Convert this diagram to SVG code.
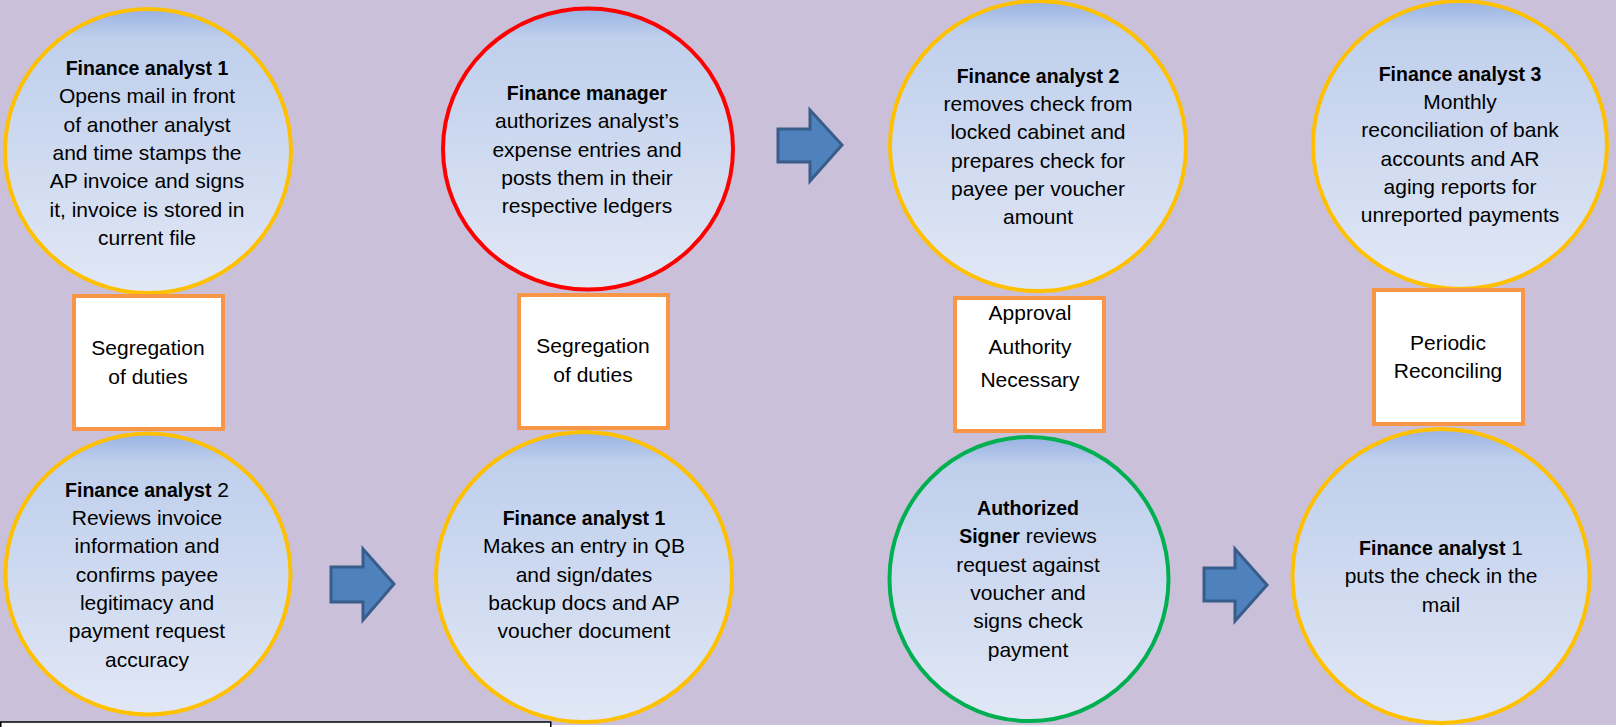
<svg xmlns="http://www.w3.org/2000/svg" width="1616" height="727" viewBox="0 0 1616 727">
<defs>
<linearGradient id="cg" x1="0" y1="0" x2="0" y2="1">
<stop offset="0" stop-color="#98B2E2"/>
<stop offset="0.1" stop-color="#BFCFEC"/>
<stop offset="1" stop-color="#E1E7F5"/>
</linearGradient>
<style>
.c{fill:url(#cg);stroke-width:4}
.y{stroke:#FFC000}
.r{stroke:#FF0000}
.g{stroke:#00B050}
.bx{fill:#FFFFFF;stroke:#F79646;stroke-width:4}
.ar{fill:#4F81BD;stroke:#385D8A;stroke-width:3;stroke-linejoin:miter}
text{font-family:"Liberation Sans",Arial,sans-serif;font-size:21px;fill:#000;text-anchor:middle}
.b{font-weight:bold;font-size:19.5px}
</style>
</defs>
<rect x="0" y="0" width="1616" height="727" fill="#FFFFFF"/>
<rect x="0" y="0" width="1616" height="725" fill="#CAC0DA"/>
<rect x="0.75" y="722" width="550" height="12" fill="#FFFFFF" stroke="#000" stroke-width="1.5"/>

<g id="connectors">
<polygon class="ar" points="331,567 363,567 363,549 394,584 363,620 363,602 331,602"/>
<polygon class="ar" points="778,129 810,129 810,110 842,145 810,181 810,162 778,162"/>
<polygon class="ar" points="1204,568 1235,568 1235,549 1267,585 1235,621 1235,601 1204,601"/>
</g>

<g id="n1">
<ellipse class="c y" cx="148" cy="151" rx="143" ry="142"/>
<text><tspan class="b" x="147" y="75">Finance analyst 1</tspan><tspan x="147" y="103.3">Opens mail in front</tspan><tspan x="147" y="131.7">of another analyst</tspan><tspan x="147" y="160">and time stamps the</tspan><tspan x="147" y="188.3">AP invoice and signs</tspan><tspan x="147" y="216.7">it, invoice is stored in</tspan><tspan x="147" y="245">current file</tspan></text>
</g>

<g id="n2">
<ellipse class="c y" cx="148" cy="574" rx="142.5" ry="140.5"/>
<text><tspan x="147" y="496.7"><tspan class="b">Finance analyst</tspan> 2</tspan><tspan x="147" y="525">Reviews invoice</tspan><tspan x="147" y="553.3">information and</tspan><tspan x="147" y="581.7">confirms payee</tspan><tspan x="147" y="610">legitimacy and</tspan><tspan x="147" y="638.3">payment request</tspan><tspan x="147" y="666.7">accuracy</tspan></text>
</g>

<g id="n3">
<ellipse class="c r" cx="588" cy="149" rx="145" ry="140.5"/>
<text><tspan class="b" x="587" y="100">Finance manager</tspan><tspan x="587" y="128.3">authorizes analyst’s</tspan><tspan x="587" y="156.7">expense entries and</tspan><tspan x="587" y="185">posts them in their</tspan><tspan x="587" y="213.3">respective ledgers</tspan></text>
</g>

<g id="n4">
<ellipse class="c y" cx="584" cy="577" rx="148" ry="145"/>
<text><tspan class="b" x="584" y="525">Finance analyst 1</tspan><tspan x="584" y="553.3">Makes an entry in QB</tspan><tspan x="584" y="581.7">and sign/dates</tspan><tspan x="584" y="610">backup docs and AP</tspan><tspan x="584" y="638.3">voucher document</tspan></text>
</g>

<g id="n5">
<ellipse class="c y" cx="1038" cy="146" rx="148" ry="145"/>
<text><tspan class="b" x="1038" y="82.7">Finance analyst 2</tspan><tspan x="1038" y="111">removes check from</tspan><tspan x="1038" y="139.3">locked cabinet and</tspan><tspan x="1038" y="167.7">prepares check for</tspan><tspan x="1038" y="196">payee per voucher</tspan><tspan x="1038" y="224.3">amount</tspan></text>
</g>

<g id="n6">
<ellipse class="c g" cx="1029" cy="579" rx="139.5" ry="142"/>
<text><tspan class="b" x="1028" y="515">Authorized</tspan><tspan x="1028" y="543.3"><tspan class="b">Signer</tspan> reviews</tspan><tspan x="1028" y="571.7">request against</tspan><tspan x="1028" y="600">voucher and</tspan><tspan x="1028" y="628.3">signs check</tspan><tspan x="1028" y="656.7">payment</tspan></text>
</g>

<g id="n7">
<ellipse class="c y" cx="1460" cy="145" rx="147" ry="144"/>
<text><tspan class="b" x="1460" y="80.7">Finance analyst 3</tspan><tspan x="1460" y="109">Monthly</tspan><tspan x="1460" y="137.3">reconciliation of bank</tspan><tspan x="1460" y="165.7">accounts and AR</tspan><tspan x="1460" y="194">aging reports for</tspan><tspan x="1460" y="222.3">unreported payments</tspan></text>
</g>

<g id="n8">
<ellipse class="c y" cx="1441" cy="576" rx="148.5" ry="147"/>
<text><tspan x="1441" y="555"><tspan class="b">Finance analyst</tspan> 1</tspan><tspan x="1441" y="583.3">puts the check in the</tspan><tspan x="1441" y="611.7">mail</tspan></text>
</g>

<g id="b1">
<rect class="bx" x="74" y="296" width="149" height="133"/>
<text><tspan x="148" y="355">Segregation</tspan><tspan x="148" y="384">of duties</tspan></text>
</g>

<g id="b2">
<rect class="bx" x="519" y="295" width="149" height="133"/>
<text><tspan x="593" y="353.3">Segregation</tspan><tspan x="593" y="381.7">of duties</tspan></text>
</g>

<g id="b3">
<rect class="bx" x="955" y="298" width="149" height="133"/>
<text><tspan x="1030" y="320">Approval</tspan><tspan x="1030" y="354">Authority</tspan><tspan x="1030" y="386.7">Necessary</tspan></text>
</g>

<g id="b4">
<rect class="bx" x="1374" y="290" width="149" height="134"/>
<text><tspan x="1448" y="350">Periodic</tspan><tspan x="1448" y="378.3">Reconciling</tspan></text>
</g>
</svg>
